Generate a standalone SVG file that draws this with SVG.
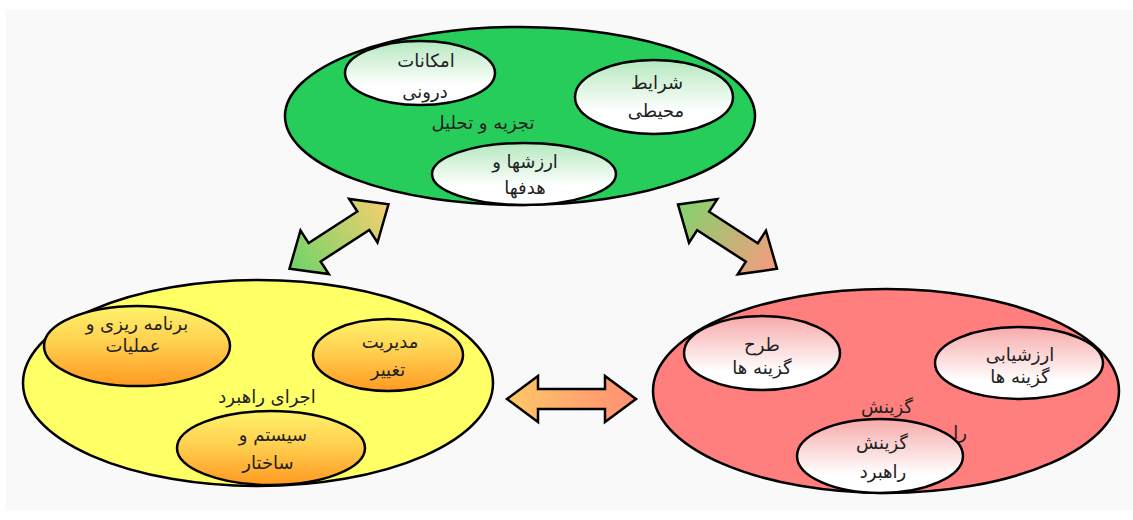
<svg xmlns="http://www.w3.org/2000/svg" width="1133" height="520" viewBox="0 0 1133 520">
<defs>
<linearGradient id="gGreen" x1="0" y1="0" x2="0" y2="1"><stop offset="0" stop-color="#b5e8bf"/><stop offset="0.7" stop-color="#ffffff"/></linearGradient>
<linearGradient id="gRed" x1="0" y1="0" x2="0" y2="1"><stop offset="0" stop-color="#f7a9a9"/><stop offset="0.75" stop-color="#ffffff"/></linearGradient>
<linearGradient id="gYellow" x1="0" y1="0" x2="0" y2="1"><stop offset="0" stop-color="#fff36a"/><stop offset="0.45" stop-color="#ffd050"/><stop offset="1" stop-color="#ff9a22"/></linearGradient>
<linearGradient id="gH" x1="0" y1="0" x2="1" y2="0"><stop offset="0" stop-color="#ffc766"/><stop offset="1" stop-color="#ff8f73"/></linearGradient>
<linearGradient id="gL" x1="0" y1="0" x2="1" y2="0"><stop offset="0" stop-color="#6fd36a"/><stop offset="1" stop-color="#f5cf6e"/></linearGradient>
<linearGradient id="gR" x1="0" y1="0" x2="1" y2="0"><stop offset="0" stop-color="#82d36c"/><stop offset="1" stop-color="#f69b80"/></linearGradient>
<path id="arrD" d="M -59 0 L -29 -26 L -29 -11 L 29 -11 L 29 -26 L 59 0 L 29 26 L 29 11 L -29 11 L -29 26 Z"/>
<path id="arrH" d="M -64.5 0 L -33.5 -23 L -33.5 -10 L 33.5 -10 L 33.5 -23 L 64.5 0 L 33.5 23 L 33.5 10 L -33.5 10 L -33.5 23 Z"/>
</defs>
<style>
.big{stroke:#000;stroke-width:2.5}
.in{stroke:#000;stroke-width:2.5}
.arr{stroke:#000;stroke-width:2.5;stroke-linejoin:miter}
text{font-family:"DejaVu Sans",sans-serif;font-size:18px;fill:#222;text-anchor:middle}
</style>
<rect x="0" y="0" width="1133" height="520" fill="#ffffff"/>
<rect x="6" y="10" width="1127" height="500" fill="#f9f9f9"/>

<g id="connectors">
<use href="#arrD" class="arr" fill="url(#gL)" transform="translate(339 236.5) rotate(-33)"/>
<use href="#arrD" class="arr" fill="url(#gR)" transform="translate(727.5 236.7) rotate(33)"/>
<use href="#arrH" class="arr" fill="url(#gH)" transform="translate(571.5 399)"/>
</g>

<g id="analysis">
<ellipse class="big" cx="520" cy="116" rx="235" ry="89" fill="#26cd5a"/>
<text x="483" y="129">تجزیه و تحلیل</text>
<g id="internal">
<ellipse class="in" cx="420" cy="73" rx="75" ry="32" fill="url(#gGreen)"/>
<text x="426" y="67">امکانات</text>
<text x="425" y="98">درونی</text>
</g>
<g id="environment">
<ellipse class="in" cx="654" cy="97" rx="79" ry="37" fill="url(#gGreen)"/>
<text x="657" y="89">شرایط</text>
<text x="656" y="117">محیطی</text>
</g>
<g id="values">
<ellipse class="in" cx="524" cy="174" rx="92" ry="31" fill="url(#gGreen)"/>
<text x="525" y="168">ارزشها و</text>
<text x="525" y="194">هدفها</text>
</g>
</g>

<g id="implementation">
<ellipse class="big" cx="258" cy="383" rx="235" ry="103" fill="#ffff66"/>
<text x="267" y="403">اجرای راهبرد</text>
<g id="planning">
<ellipse class="in" cx="137" cy="346" rx="93" ry="40" fill="url(#gYellow)"/>
<text x="137" y="330">برنامه ریزی و</text>
<text x="133" y="352">عملیات</text>
</g>
<g id="change">
<ellipse class="in" cx="388" cy="355" rx="75" ry="36" fill="url(#gYellow)"/>
<text x="390" y="348">مدیریت</text>
<text x="388" y="376">تغییر</text>
</g>
<g id="system">
<ellipse class="in" cx="271" cy="448" rx="94" ry="37" fill="url(#gYellow)"/>
<text x="273" y="441">سیستم و</text>
<text x="268" y="469">ساختار</text>
</g>
</g>

<g id="selection">
<ellipse class="big" cx="886" cy="391" rx="233" ry="102" fill="#ff7f7f"/>
<text x="887" y="413">گزینش</text>
<text x="960" y="439">را</text>
<g id="design">
<ellipse class="in" cx="762" cy="353" rx="78" ry="37" fill="url(#gRed)"/>
<text x="762" y="351">طرح</text>
<text x="762" y="374">گزینه ها</text>
</g>
<g id="evaluation">
<ellipse class="in" cx="1019" cy="363" rx="84" ry="36" fill="url(#gRed)"/>
<text x="1020" y="361">ارزشیابی</text>
<text x="1020" y="383">گزینه ها</text>
</g>
<g id="choose">
<ellipse class="in" cx="880" cy="456" rx="83" ry="37" fill="url(#gRed)"/>
<text x="882" y="449">گزینش</text>
<text x="883" y="478">راهبرد</text>
</g>
</g>
</svg>
